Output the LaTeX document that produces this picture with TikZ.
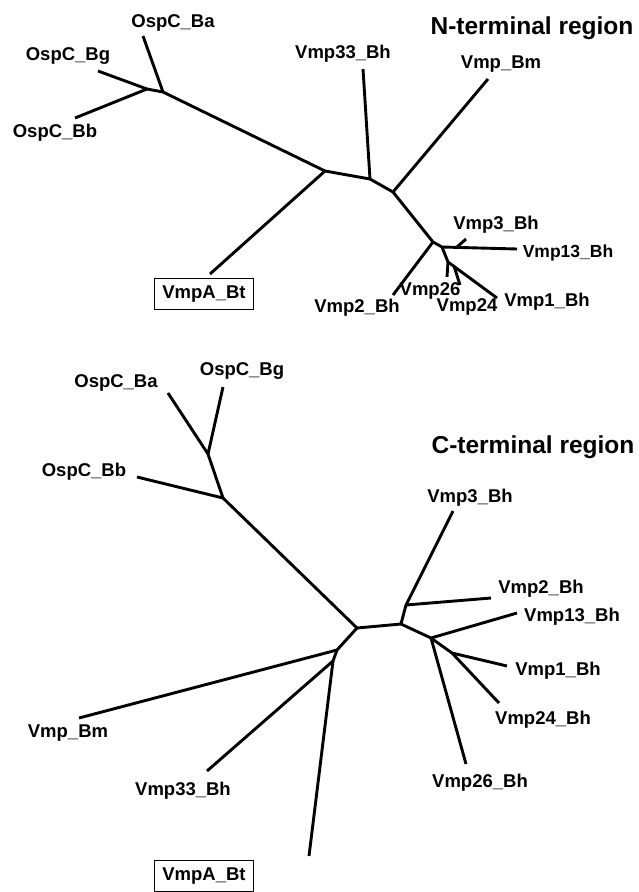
\documentclass[tikz,border=0pt]{standalone}
\usepackage{fontspec}
\setmainfont{Liberation Sans}
\begin{document}
\begin{tikzpicture}[x=1pt,y=-1pt,
  br/.style={line width=2.9pt, line join=round},
  lab/.style={font=\fontsize{18.5}{20}\selectfont\bfseries, inner sep=0pt},
  labs/.style={font=\fontsize{17.5}{19}\selectfont\bfseries, inner sep=0pt},
  ttl/.style={font=\fontsize{24.5}{26}\selectfont\bfseries, inner sep=0pt},
  boxed/.style={lab, draw, line width=1.3pt, minimum width=99pt, minimum height=31pt}]
\useasboundingbox (0,0) rectangle (639,892);
% ---------- top tree: N-terminal ----------
\coordinate (tBa) at (143,36);
\coordinate (tA) at (163,92);
\coordinate (tBg) at (98,71);
\coordinate (tB) at (147,89);
\coordinate (tBb) at (75,118);
\coordinate (tC) at (325,171);
\coordinate (tVA) at (210,274);
\coordinate (tD) at (370,179);
\coordinate (t33) at (363,69);
\coordinate (tE) at (393,192);
\coordinate (tBm) at (488,79);
\coordinate (tF) at (433,242);
\coordinate (t2) at (393,295);
\coordinate (tG) at (442,247);
\coordinate (t13) at (517,249);
\coordinate (t3r) at (457,247);
\coordinate (t3) at (466,239);
\coordinate (tH) at (448,262);
\coordinate (t26) at (447,277);
\coordinate (tI) at (454,266);
\coordinate (t24) at (460,285);
\coordinate (t1) at (497,298);

\draw[br] (tBa) -- (tA) -- (tC);
\draw[br] (tBg) -- (tB) -- (tBb);
\draw[br] (tB) -- (tA);
\draw[br] (tVA) -- (tC) -- (tD) -- (tE) -- (tF) -- (tG) -- (t13);
\draw[br] (t33) -- (tD);
\draw[br] (tBm) -- (tE);
\draw[br] (tF) -- (t2);
\draw[br] (t3r) -- (t3);
\draw[br] (tG) -- (tH) -- (t1);
\draw[br] (tH) -- (t26);
\draw[br] (tI) -- (t24);

\node[ttl] (ntitle) at (532,28) {N-terminal region};
\node[lab] (ntBa) at (173,23) {OspC\_Ba};
\node[lab] (ntBg) at (68,56) {OspC\_Bg};
\node[lab] (ntBb) at (55,133) {OspC\_Bb};
\node[lab] (nt33) at (343,54) {Vmp33\_Bh};
\node[lab] (ntBm) at (501,64) {Vmp\_Bm};
\node[lab] (nt3) at (496,225) {Vmp3\_Bh};
\node[labs] (nt13) at (568,253) {Vmp13\_Bh};
\node[lab] (nt26) at (430,291) {Vmp26};
\node[lab] (nt24) at (467,307) {Vmp24};
\node[lab] (nt1) at (547,302) {Vmp1\_Bh};
\node[lab] (nt2) at (357,308) {Vmp2\_Bh};
\node[boxed] (ntVA) at (204,294) {VmpA\_Bt};

% ---------- bottom tree: C-terminal ----------
\coordinate (bBa) at (168,393);
\coordinate (bJ) at (208,454);
\coordinate (bBg) at (223,387);
\coordinate (bK) at (223,498);
\coordinate (bBb) at (137,477);
\coordinate (bL) at (357,628);
\coordinate (bM) at (401,624);
\coordinate (bN) at (406,605);
\coordinate (b3) at (453,511);
\coordinate (b2) at (491,598);
\coordinate (bO) at (431,638);
\coordinate (b13) at (517,613);
\coordinate (b26) at (466,764);
\coordinate (bP) at (452,653);
\coordinate (b1) at (507,666);
\coordinate (b24) at (499,703);
\coordinate (bQ) at (337,650);
\coordinate (bBm) at (79,718);
\coordinate (bR) at (333,661);
\coordinate (b33) at (207,771);
\coordinate (bVA) at (309,856);

\draw[br] (bBa) -- (bJ) -- (bBg);
\draw[br] (bJ) -- (bK);
\draw[br] (bBb) -- (bK) -- (bL) -- (bM) -- (bN) -- (b3);
\draw[br] (bN) -- (b2);
\draw[br] (bM) -- (bO) -- (b13);
\draw[br] (bO) -- (b26);
\draw[br] (bO) -- (bP) -- (b24);
\draw[br] (bP) -- (b1);
\draw[br] (bL) -- (bQ) -- (bBm);
\draw[br] (bQ) -- (bR) -- (b33);
\draw[br] (bR) -- (bVA);

\node[ttl] (ctitle) at (533,447) {C-terminal region};
\node[lab] (nbBa) at (116,383) {OspC\_Ba};
\node[lab] (nbBg) at (242,371) {OspC\_Bg};
\node[lab] (nbBb) at (84,472) {OspC\_Bb};
\node[lab] (nb3) at (470,498) {Vmp3\_Bh};
\node[lab] (nb2) at (541,589) {Vmp2\_Bh};
\node[lab] (nb13) at (572,617) {Vmp13\_Bh};
\node[lab] (nb1) at (558,671) {Vmp1\_Bh};
\node[lab] (nb24) at (543,720) {Vmp24\_Bh};
\node[lab] (nb26) at (480,783) {Vmp26\_Bh};
\node[lab] (nbBm) at (68,733) {Vmp\_Bm};
\node[lab] (nb33) at (183,791) {Vmp33\_Bh};
\node[boxed] (nbVA) at (204,876) {VmpA\_Bt};
\end{tikzpicture}
\end{document}
